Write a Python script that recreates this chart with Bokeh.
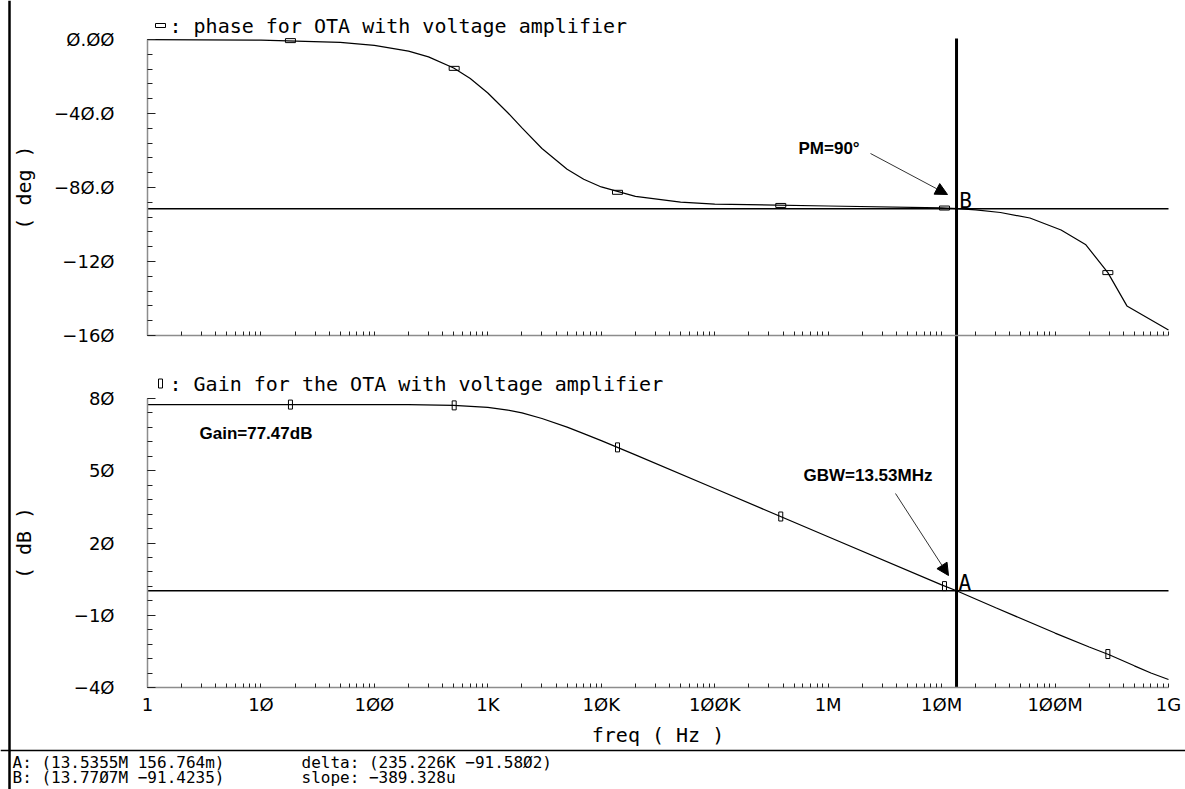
import math
from bokeh.plotting import figure
from bokeh.models import (Range1d, LogAxis, LinearAxis, FixedTicker, Span, Label,
                          Arrow, NormalHead)
from bokeh.embed import file_html
from bokeh.resources import INLINE

# ------------------------------------------------------------------ data
FREQ_PHASE = [1, 10, 50, 100, 200, 300, 500, 700, 1e3, 1.5e3, 2e3, 3e3, 5e3, 7e3,
              1e4, 2e4, 5e4, 1e5, 1e6, 1e7, 1.377e7, 2e7, 3.3e7, 6e7, 1.13e8,
              1.87e8, 2.92e8, 4.3e8, 1e9]
PHASE_DEG = [-0.03, -0.32, -1.6, -3.2, -6.3, -9.4, -15.4, -21.1, -28.9, -39.6,
             -47.8, -58.9, -70.1, -75.5, -79.7, -84.8, -87.9, -89.0, -90.0, -91.0,
             -91.4, -92.1, -93.5, -96.5, -103.0, -111.0, -126.0, -144.0, -157.0]

FREQ_GAIN = [1, 10, 100, 200, 500, 1e3, 1.5e3, 2e3, 3e3, 5e3, 7e3, 1e4, 2e4, 1e5,
             1e6, 1e7, 1.35355e7, 3e7, 1e8, 2e8, 3e8, 5e8, 7e8, 1e9]
GAIN_DB = [77.47, 77.47, 77.46, 77.42, 77.14, 76.31, 75.2, 74.0, 71.7, 68.1, 65.4,
           62.5, 56.6, 42.6, 22.6, 2.6, 0.16, -6.9, -17.4, -23.2, -26.4, -31.0,
           -34.0, -36.7]

MARK_FREQ = [18.2, 505, 1.39e4, 3.82e5, 1.06e7, 2.92e8]
PHASE_MARK = [-0.6, -15.6, -82.6, -89.7, -91.1, -126.0]
GAIN_MARK = [77.47, 77.14, 59.7, 31.0, 2.1, -26.1]

CURSOR_A = (13.5355e6, 0.156764)
CURSOR_B = (13.7707e6, -91.4235)

X_TICKS = [1, 10, 100, 1000, 10**4, 10**5, 10**6, 10**7, 10**8, 10**9]
X_LABELS = ["1", "1Ø", "1ØØ", "1K", "1ØK", "1ØØK", "1M", "1ØM", "1ØØM", "1G"]
PHASE_TICKS = [-160, -120, -80, -40, 0]
PHASE_LABELS = ["−16Ø", "−12Ø", "−8Ø.Ø", "−4Ø.Ø", "Ø.ØØ"]
GAIN_TICKS = [-40, -10, 20, 50, 80]
GAIN_LABELS = ["−4Ø", "−1Ø", "2Ø", "5Ø", "8Ø"]

PHASE_TITLE = ": phase for OTA with voltage amplifier"
GAIN_TITLE = ": Gain for the OTA with voltage amplifier"
READOUT_AB = ["A: (13.5355M 156.764m)", "B: (13.77Ø7M −91.4235)"]
READOUT_DS = ["delta: (235.226K −91.58Ø2)", "slope: −389.328u"]
NOTE_PM = "PM=90°"
NOTE_GBW = "GBW=13.53MHz"
NOTE_GAIN = "Gain=77.47dB"

# ------------------------------------------------------------------ layout (page pixels)
PAGE = 0
W, H = 1185, 789
PX_F0, PX_F1 = 147, 1168      # x of first / last decade
PX_PH0, PX_PH1 = 39, 335      # y of phase max / min
PX_G0, PX_G1 = 398, 687       # y of gain max / min

F_MIN, F_MAX = X_TICKS[0], X_TICKS[-1]
DEC = (PX_F1 - PX_F0) / math.log10(F_MAX / F_MIN)
PH_HI, PH_LO = max(PHASE_TICKS), min(PHASE_TICKS)
G_HI, G_LO = max(GAIN_TICKS), min(GAIN_TICKS)
PH_K = (PH_HI - PH_LO) / (PX_PH1 - PX_PH0)
G_K = (G_HI - G_LO) / (PX_G1 - PX_G0)


def fx(px):
    return F_MIN * 10 ** ((px - PX_F0) / DEC)


def ph(py):
    return PH_HI - (py - PX_PH0) * PH_K


def gn(py):
    return G_HI - (py - PX_G0) * G_K


p = figure(width=W, height=H, x_axis_type="log",
           x_range=Range1d(fx(PAGE), fx(PAGE + W)),
           y_range=Range1d(gn(PAGE + H), gn(PAGE)),
           x_axis_location=None, y_axis_location=None,
           toolbar_location=None, output_backend="svg", title=None,
           min_border=0)
p.extra_y_ranges = {"phase": Range1d(ph(PAGE + H), ph(PAGE))}
p.outline_line_color = None
p.background_fill_color = "white"
p.border_fill_color = "white"
p.xgrid.visible = False
p.ygrid.visible = False

MONO = "DejaVu Sans Mono"
SANS = "DejaVu Sans"


def style_axis(ax, tick_in, minor_in):
    ax.axis_line_color = "#8c8c8c"
    ax.axis_line_width = 1.5
    ax.major_tick_in = tick_in
    ax.major_tick_out = 0
    ax.minor_tick_in = minor_in
    ax.minor_tick_out = 0
    ax.major_tick_line_color = "#222222"
    ax.minor_tick_line_color = "#222222"
    ax.major_label_text_font = SANS
    ax.major_label_text_font_size = "18px"
    ax.major_label_text_color = "black"
    ax.axis_label_text_font = MONO
    ax.axis_label_text_font_size = "20px"
    ax.axis_label_text_font_style = "normal"
    ax.axis_label_text_color = "black"


x_minor = [m * t for t in X_TICKS[:-1] for m in range(2, 10)]

xb = LogAxis(fixed_location=G_LO, bounds=(F_MIN, F_MAX),
             ticker=FixedTicker(ticks=X_TICKS, minor_ticks=x_minor),
             major_label_overrides=dict(zip(X_TICKS, X_LABELS)),
             axis_label="freq ( Hz )")
style_axis(xb, 4, 4)
xb.major_label_standoff = 6
xb.axis_label_standoff = 5
p.add_layout(xb, "below")

xt = LogAxis(y_range_name="phase", fixed_location=PH_LO, bounds=(F_MIN, F_MAX),
             ticker=FixedTicker(ticks=X_TICKS, minor_ticks=x_minor),
             major_label_overrides={t: "" for t in X_TICKS})
style_axis(xt, 4, 4)
xt.major_label_text_color = None
p.add_layout(xt, "below")

yp = LinearAxis(y_range_name="phase", fixed_location=F_MIN, bounds=(PH_LO, PH_HI),
                ticker=FixedTicker(ticks=PHASE_TICKS,
                                   minor_ticks=list(range(PH_LO, PH_HI + 1, 8))),
                major_label_overrides=dict(zip(PHASE_TICKS, PHASE_LABELS)),
                axis_label="( deg )")
style_axis(yp, 8, 5)
yp.major_label_standoff = 33
yp.axis_label_standoff = 15
yp.major_label_text_baseline = "alphabetic"
p.add_layout(yp, "left")

yg = LinearAxis(fixed_location=F_MIN, bounds=(G_LO, G_HI),
                ticker=FixedTicker(ticks=GAIN_TICKS,
                                   minor_ticks=list(range(G_LO, G_HI + 1, 6))),
                major_label_overrides=dict(zip(GAIN_TICKS, GAIN_LABELS)),
                axis_label="( dB )")
style_axis(yg, 8, 5)
yg.major_label_standoff = 33
yg.axis_label_standoff = 35
yg.major_label_text_baseline = "alphabetic"
p.add_layout(yg, "left")

# ------------------------------------------------------------------ curves
p.line(FREQ_PHASE, PHASE_DEG, y_range_name="phase", line_color="black", line_width=1.2)
p.line(FREQ_GAIN, GAIN_DB, line_color="black", line_width=1.2)
p.rect(MARK_FREQ, PHASE_MARK, width=10, height=4, width_units="screen",
       height_units="screen", fill_color=None, line_color="black", line_width=1,
       y_range_name="phase")
p.rect(MARK_FREQ, GAIN_MARK, width=4, height=9, width_units="screen",
       height_units="screen", fill_color=None, line_color="black", line_width=1)

# cursor lines
p.line([F_MIN, F_MAX], [CURSOR_B[1], CURSOR_B[1]], y_range_name="phase",
       line_color="black", line_width=1.5)
p.line([F_MIN, F_MAX], [CURSOR_A[1], CURSOR_A[1]], line_color="black", line_width=1.5)
p.segment(x0=[CURSOR_A[0]], y0=[G_LO], x1=[CURSOR_A[0]], y1=[gn(PX_PH0 - 1)],
          line_color="black", line_width=3)

# cursor letters sit on their lines (centre ~8 px above)
LIFT = 8
p.add_layout(Label(x=CURSOR_A[0], y=CURSOR_A[1] + LIFT * G_K, text="A", x_offset=2,
                   text_baseline="middle", text_font=MONO, text_font_size="21px",
                   text_color="black"))
p.add_layout(Label(x=CURSOR_B[0], y=CURSOR_B[1] + LIFT * PH_K, text="B", x_offset=2,
                   text_baseline="middle", text_font=MONO, text_font_size="21px",
                   text_color="black", y_range_name="phase"))

# page frame lines
p.add_layout(Span(location=fx(9), dimension="height", line_color="black",
                  line_width=2.5))
p.add_layout(Span(location=gn(750), dimension="width", line_color="black",
                  line_width=1.5))

# titles with curve symbols
p.rect([fx(160)], [ph(25)], width=10, height=4, width_units="screen",
       height_units="screen", fill_color=None, line_color="black", line_width=1,
       y_range_name="phase")
p.add_layout(Label(x=fx(169), y=ph(25), text=PHASE_TITLE, text_baseline="middle",
                   text_font=MONO, text_font_size="20px", text_color="black",
                   y_range_name="phase"))
p.rect([fx(160)], [gn(383)], width=4, height=9, width_units="screen",
       height_units="screen", fill_color=None, line_color="black", line_width=1)
p.add_layout(Label(x=fx(169), y=gn(383), text=GAIN_TITLE, text_baseline="middle",
                   text_font=MONO, text_font_size="20px", text_color="black"))

# notes with arrows
BOLD = "Liberation Sans"
p.add_layout(Label(x=fx(798), y=ph(148), text=NOTE_PM, text_baseline="middle",
                   text_font=BOLD, text_font_style="bold", text_font_size="17px",
                   text_color="black", y_range_name="phase"))
p.add_layout(Arrow(end=NormalHead(size=12, fill_color="black", line_color="black"),
                   x_start=fx(870), y_start=ph(153), x_end=fx(947), y_end=ph(194),
                   line_color="#333333", line_width=1, y_range_name="phase"))
p.add_layout(Label(x=fx(803), y=gn(475), text=NOTE_GBW, text_baseline="middle",
                   text_font=BOLD, text_font_style="bold", text_font_size="17px",
                   text_color="black"))
p.add_layout(Arrow(end=NormalHead(size=12, fill_color="black", line_color="black"),
                   x_start=fx(895), y_start=gn(493), x_end=fx(948), y_end=gn(575),
                   line_color="#333333", line_width=1))
p.add_layout(Label(x=fx(199), y=gn(433), text=NOTE_GAIN, text_baseline="middle",
                   text_font=BOLD, text_font_style="bold", text_font_size="17px",
                   text_color="black"))

# cursor readout
for i, (t1, t2) in enumerate(zip(READOUT_AB, READOUT_DS)):
    yy = gn(762 + 15 * i)
    p.add_layout(Label(x=fx(12), y=yy, text=t1, text_baseline="middle",
                       text_font=MONO, text_font_size="16px", text_color="black"))
    p.add_layout(Label(x=fx(301), y=yy, text=t2, text_baseline="middle",
                       text_font=MONO, text_font_size="16px", text_color="black"))

open("out.html", "w").write(file_html(p, INLINE))
